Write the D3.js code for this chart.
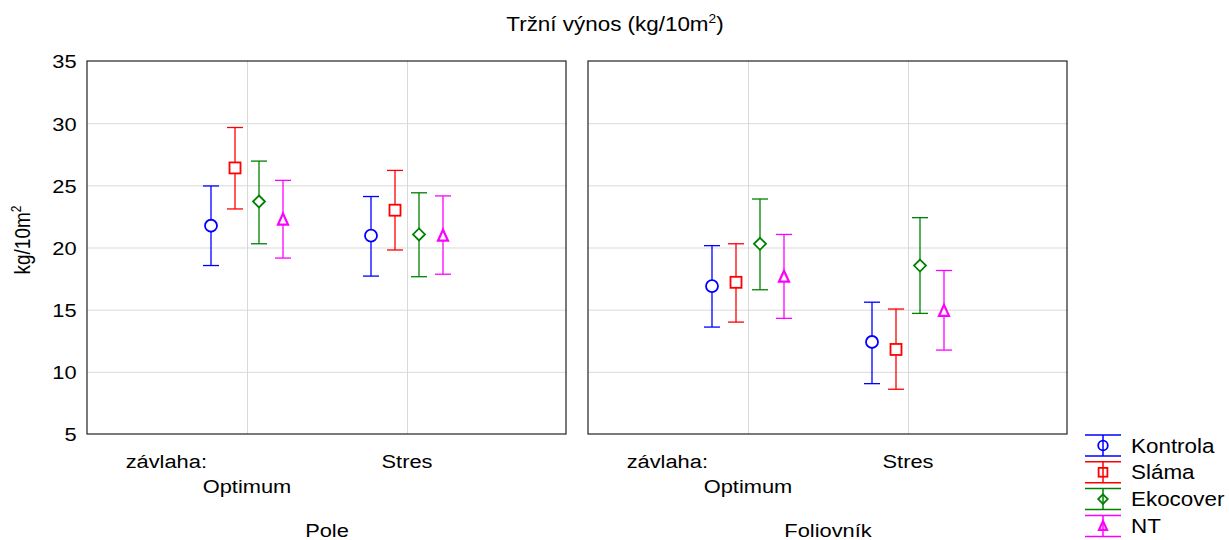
<!DOCTYPE html>
<html>
<head>
<style>
  body { margin: 0; background: #fff; }
  svg text { font-family: Arial, "Liberation Sans", sans-serif; fill: #000; }
  .grid line { stroke: #d9d9d9; stroke-width: 1px; }
  .grid path { display: none; }
</style>
</head>
<body>
<svg id="chart" width="1229" height="540"></svg>
<script src="https://cdn.jsdelivr.net/npm/d3@7"></script>
<script>
// data
var panels = ["Pole", "Foliovník"];
var levels = ["Optimum", "Stres"];
var series = ["Kontrola", "Sláma", "Ekocover", "NT"];
var colors = ["#0000ff", "#ff0000", "#008000", "#ff00ff"];
var shapes = ["circle", "square", "diamond", "triangle"];
var yTicks = [5, 10, 15, 20, 25, 30, 35];

// mean, lower, upper per series, order: Pole-Optimum, Pole-Stres, Foliovnik-Optimum, Foliovnik-Stres
var kontrolaMean = [21.75, 20.95, 16.9, 12.4];
var kontrolaLow  = [18.55, 17.7, 13.6, 9.05];
var kontrolaHigh = [24.95, 24.1, 20.15, 15.6];
var slamaMean = [26.4, 23.0, 17.2, 11.8];
var slamaLow  = [23.1, 19.8, 14.0, 8.6];
var slamaHigh = [29.65, 26.2, 20.3, 15.05];
var ekoMean = [23.7, 21.05, 20.3, 18.55];
var ekoLow  = [20.3, 17.65, 16.6, 14.7];
var ekoHigh = [26.95, 24.4, 23.9, 22.4];
var ntMean = [22.25, 20.95, 17.65, 14.9];
var ntLow  = [19.15, 17.85, 14.3, 11.75];
var ntHigh = [25.4, 24.15, 21.05, 18.15];

var means = [kontrolaMean, slamaMean, ekoMean, ntMean];
var lows = [kontrolaLow, slamaLow, ekoLow, ntLow];
var highs = [kontrolaHigh, slamaHigh, ekoHigh, ntHigh];

var svg = d3.select("#chart");
var SX = 1.15; // text is a bit wide in the original

var top_ = 61, bottom = 434, panelW = 480;
var panelX = [87, 588];

var y = d3.scaleLinear().domain([5, 35]).range([bottom, top_]);
var x = d3.scalePoint().domain(levels).range([0, panelW]).padding(1);
var off = d3.scalePoint().domain(series).range([-36, 36]);

function label(g, tx, ty, str, anchor, size) {
    return g.append("text")
        .attr("transform", "translate(" + tx + "," + ty + ") scale(" + SX + ",1)")
        .attr("text-anchor", anchor || "start")
        .style("font-size", (size || 19) + "px")
        .text(str);
}

function marker(g, shape, color, s, fill) {
    var m;
    if (shape == "circle") {
        m = g.append("circle").attr("r", 6 * s);
    } else if (shape == "square") {
        m = g.append("rect").attr("x", -5.5 * s).attr("y", -5.5 * s)
            .attr("width", 11 * s).attr("height", 11 * s);
    } else if (shape == "diamond") {
        m = g.append("path").attr("d", "M0," + (-6 * s) + "L" + (6 * s) + ",0L0," + (6 * s) + "L" + (-6 * s) + ",0Z");
    } else {
        m = g.append("path").attr("d", "M0," + (-6 * s) + "L" + (5 * s) + "," + (5 * s) + "L" + (-5 * s) + "," + (5 * s) + "Z");
    }
    m.attr("fill", fill).attr("stroke", color).attr("stroke-width", shape == "triangle" ? 2.2 : 1.8);
}

// title
var t = label(svg, 615, 31, "Tržní výnos (kg/10m", "middle", 19.5);
t.append("tspan").attr("dy", -8).style("font-size", "12px").text("2");
t.append("tspan").attr("dy", 8).text(")");

// y title
var yt = svg.append("text")
    .attr("transform", "translate(30,240) rotate(-90) scale(1,1.15)")
    .attr("text-anchor", "middle")
    .style("font-size", "19px")
    .text("kg/10m");
yt.append("tspan").attr("dy", -8).style("font-size", "12px").text("2");

panels.forEach(function(p, pi) {
    var g = svg.append("g").attr("transform", "translate(" + panelX[pi] + ",0)");

    // grid
    g.append("g").attr("class", "grid")
        .call(d3.axisLeft(y).tickValues(yTicks.slice(1, -1)).tickSize(-panelW).tickFormat(""));
    g.append("g").attr("class", "grid").attr("transform", "translate(0," + bottom + ")")
        .call(d3.axisBottom(x).tickSize(-(bottom - top_)).tickFormat(""));

    // frame
    g.append("rect").attr("x", 0).attr("y", top_).attr("width", panelW - 1).attr("height", bottom - top_)
        .attr("fill", "none").attr("stroke", "#222").attr("stroke-width", 1.2);

    if (pi == 0) {
        var ax = g.append("g").call(d3.axisLeft(y).tickValues(yTicks).tickSize(0).tickPadding(9));
        ax.select(".domain").remove();
        ax.selectAll("text")
            .attr("transform", "scale(" + SX + ",1)")
            .attr("dy", "0.36em")
            .style("font-size", "19px")
            .style("font-family", "Arial, 'Liberation Sans', sans-serif");
    }

    // x labels
    label(g, x(levels[0]) - 40, 468, "závlaha:", "end", 19);
    label(g, x(levels[0]), 493, levels[0], "middle", 19);
    label(g, x(levels[1]), 468, levels[1], "middle", 19);
    label(g, panelW / 2, 537, p, "middle", 19);

    // error bars + means
    levels.forEach(function(lv, li) {
        var idx = pi * 2 + li;
        series.forEach(function(s, si) {
            var cx = x(lv) + off(s);
            var eg = g.append("g").attr("stroke", colors[si]).attr("stroke-width", 1.3);
            eg.append("line").attr("x1", cx).attr("x2", cx)
                .attr("y1", y(highs[si][idx])).attr("y2", y(lows[si][idx]));
            eg.append("line").attr("x1", cx - 8).attr("x2", cx + 8)
                .attr("y1", y(highs[si][idx])).attr("y2", y(highs[si][idx]));
            eg.append("line").attr("x1", cx - 8).attr("x2", cx + 8)
                .attr("y1", y(lows[si][idx])).attr("y2", y(lows[si][idx]));
            var mg = g.append("g").attr("transform", "translate(" + cx + "," + y(means[si][idx]) + ")");
            marker(mg, shapes[si], colors[si], 1, "#fff");
        });
    });
});

// legend
var leg = svg.append("g").attr("transform", "translate(1085,435)");
series.forEach(function(s, si) {
    var row = leg.append("g").attr("transform", "translate(0," + (si * 26.8) + ")");
    var lg = row.append("g").attr("stroke", colors[si]).attr("stroke-width", 1.5);
    lg.append("line").attr("x1", 0).attr("x2", 36).attr("y1", 0).attr("y2", 0);
    lg.append("line").attr("x1", 0).attr("x2", 36).attr("y1", 21).attr("y2", 21);
    lg.append("line").attr("x1", 18).attr("x2", 18).attr("y1", 0).attr("y2", 21);
    var mg = row.append("g").attr("transform", "translate(18,10.5)");
    marker(mg, shapes[si], colors[si], 0.8, "none");
    label(row, 46, 17.5, s, "start", 19.5);
});
</script>
</body>
</html>
